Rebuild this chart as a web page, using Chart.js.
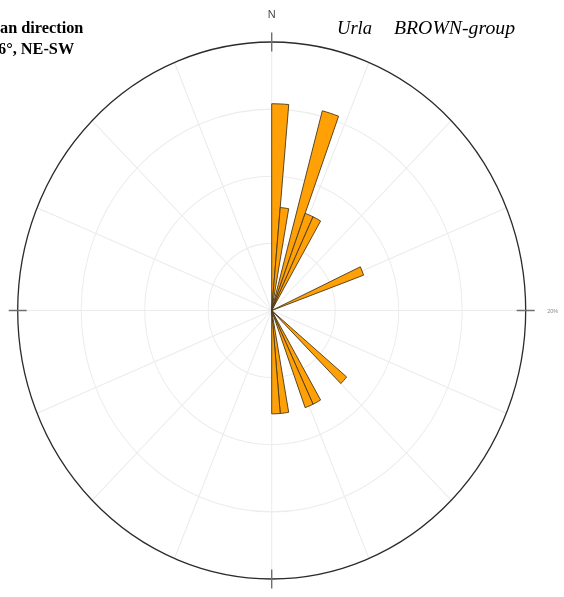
<!DOCTYPE html>
<html>
<head>
<meta charset="utf-8">
<script src="https://cdn.jsdelivr.net/npm/chart.js@4/dist/chart.umd.min.js"></script>
<style>
  html, body { margin: 0; padding: 0; background: #fff; overflow: hidden; }
  canvas { display: block; }
</style>
</head>
<body>
<canvas id="rose" width="564" height="597"></canvas>
<script>
// Strike rose, 5° bins, percentage of measurements per bin
const binStartDeg = [0, 5, 15, 20, 25, 65, 130, 150, 155, 170, 175];
const binPercent  = [15.4, 7.7, 15.4, 7.7, 7.7, 7.7, 7.7, 7.7, 7.7, 7.7, 7.7];
const BIN_WIDTH = 5;
const ringPercent = [5, 10, 15, 20];
const outerLabel = '20%';

const titleLeft = ['Mean direction', '16°, NE-SW'];
const titleRight = ['Urla', 'BROWN-group'];

// 72 bins around the compass, zero where nothing was measured
const binLabels = Array.from({ length: 360 / BIN_WIDTH },
  (_, i) => `${i * BIN_WIDTH}–${(i + 1) * BIN_WIDTH}°`);
const roseData = binLabels.map((_, i) => {
  const k = binStartDeg.indexOf(i * BIN_WIDTH);
  return k >= 0 ? binPercent[k] : 0;
});

// plot geometry
const CX = 271.7, CY = 310.5, RADIUS = 254, STRETCH_Y = 268.5 / 254;

const roseFrame = {
  id: 'roseFrame',
  beforeDraw(chart) {
    const ctx = chart.ctx, s = chart.scales.r;
    ctx.save();
    ctx.translate(0, s.yCenter);
    ctx.scale(1, STRETCH_Y);
    ctx.translate(0, -s.yCenter);
    // 16 compass spokes every 22.5°
    ctx.save();
    ctx.strokeStyle = '#ebebeb';
    ctx.lineWidth = 1;
    for (let k = 0; k < 16; k++) {
      const a = (k * 22.5 - 90) * Math.PI / 180;
      ctx.beginPath();
      ctx.moveTo(s.xCenter, s.yCenter);
      ctx.lineTo(s.xCenter + Math.cos(a) * s.drawingArea, s.yCenter + Math.sin(a) * s.drawingArea);
      ctx.stroke();
    }
    ctx.restore();
  },
  afterDatasetsDraw(chart) {
    const ctx = chart.ctx, s = chart.scales.r;
    // cardinal tick marks across the outer ring
    ctx.save();
    ctx.strokeStyle = '#6f6f6f';
    ctx.lineWidth = 1.4;
    for (let k = 0; k < 4; k++) {
      const a = (k * 90 - 90) * Math.PI / 180;
      const r0 = s.drawingArea - 9, r1 = s.drawingArea + 9;
      ctx.beginPath();
      ctx.moveTo(s.xCenter + Math.cos(a) * r0, s.yCenter + Math.sin(a) * r0);
      ctx.lineTo(s.xCenter + Math.cos(a) * r1, s.yCenter + Math.sin(a) * r1);
      ctx.stroke();
    }
    ctx.restore();
  },
  afterDraw(chart) {
    const ctx = chart.ctx, s = chart.scales.r;
    ctx.restore();
    ctx.save();
    // north label
    ctx.fillStyle = '#4a4a4a';
    ctx.font = '11px "Liberation Sans", Arial, sans-serif';
    ctx.textAlign = 'center';
    ctx.textBaseline = 'middle';
    ctx.fillText('N', s.xCenter, s.yCenter - s.drawingArea * STRETCH_Y - 27);
    // outer ring value
    ctx.fillStyle = '#8a8a8a';
    ctx.font = '5.5px "Liberation Sans", Arial, sans-serif';
    ctx.fillText(outerLabel, s.xCenter + s.drawingArea + 27, s.yCenter + 1);
    // left heading, running off the left edge
    ctx.fillStyle = '#000';
    ctx.font = 'bold 16.3px "Liberation Serif", "Times New Roman", serif';
    ctx.textAlign = 'left';
    ctx.textBaseline = 'alphabetic';
    ctx.fillText(titleLeft[0], -ctx.measureText('Me').width, 33);
    ctx.fillText(titleLeft[1], -2 - ctx.measureText('1').width, 54);
    // right heading, italic script style
    ctx.font = 'italic 18px "Liberation Serif", "Times New Roman", serif';
    const fitText = (txt, x, w) => {
      const m = ctx.measureText(txt).width;
      ctx.save();
      ctx.translate(x, 33.5);
      ctx.scale(w / m, 1);
      ctx.fillText(txt, 0, 0);
      ctx.restore();
    };
    fitText(titleRight[0], 337, 35);
    fitText(titleRight[1], 394, 121);
    ctx.restore();
  }
};

new Chart(document.getElementById('rose'), {
  type: 'polarArea',
  data: {
    labels: binLabels,
    datasets: [{
      data: roseData,
      backgroundColor: '#FFA106',
      borderColor: '#4d3c1c',
      borderWidth: c => (c.raw > 0 ? 0.9 : 0),
      clip: false
    }]
  },
  options: {
    responsive: false,
    devicePixelRatio: 1,
    animation: false,
    layout: { padding: 0 },
    plugins: { legend: { display: false }, tooltip: { enabled: false } },
    scales: {
      r: {
        min: 0,
        max: ringPercent[ringPercent.length - 1],
        ticks: { display: false, stepSize: ringPercent[0] },
        grid: {
          circular: true,
          color: c => (c.tick && c.tick.value === 20 ? '#2b2b2b' : '#ececec'),
          lineWidth: c => (c.tick && c.tick.value === 20 ? 1.3 : 1)
        },
        angleLines: { display: false },
        pointLabels: { display: false },
        afterFit(scale) {
          scale.xCenter = CX;
          scale.yCenter = CY;
          scale.drawingArea = RADIUS;
        }
      }
    }
  },
  plugins: [roseFrame]
});
</script>
</body>
</html>
